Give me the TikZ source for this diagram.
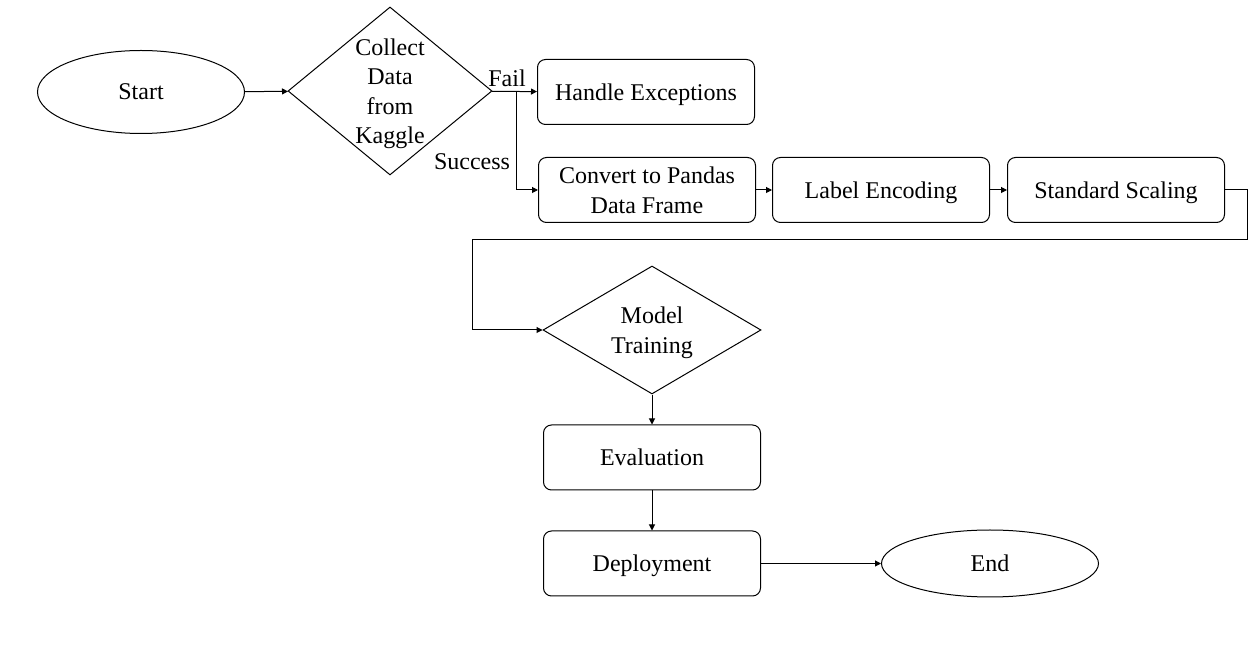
\documentclass[tikz,border=0pt]{standalone}
\usepackage{fontspec}
\setmainfont{Liberation Serif}
\usepackage{tikz}
\usetikzlibrary{arrows.meta, shapes.geometric, positioning}

\begin{document}
\begin{tikzpicture}[x=0.5pt, y=-0.5pt, line width=0.5pt, >={Triangle[length=3pt, width=3pt]},
    font=\fontsize{12}{14.75}\selectfont,
    terminal/.style={draw, ellipse, inner sep=0pt, text depth=0pt},
    stepbox/.style={draw, rectangle, rounded corners=4pt, align=center, text depth=0pt, minimum width=108.5pt, minimum height=32.5pt},
    decision/.style={draw, diamond, inner sep=0pt, align=center, text depth=0pt}]
    \useasboundingbox (0,0) rectangle (1255,657);
    \node[terminal, minimum width=103.5pt, minimum height=41.5pt] (start) at (141,92) {Start};
    \node[decision, shape aspect=1.21, minimum width=102pt, minimum height=84pt] (collect) at (390,91) {Collect\\Data\\from\\Kaggle};
    \node[stepbox] (handle) at (646,92) {Handle Exceptions};
    \node[stepbox] (convert) at (647,190) {Convert to Pandas\\Data Frame};
    \node[stepbox, right=8pt of convert] (encode) {Label Encoding};
    \node[stepbox, right=8.5pt of encode] (scaling) {Standard Scaling};
    \node[decision, shape aspect=1.7, minimum width=109pt, minimum height=64pt] (train) at (652,330) {Model\\Training};
    \node[stepbox, below=15pt of train] (eval) {Evaluation};
    \node[stepbox, below=20pt of eval] (deploy) {Deployment};
    \node[terminal, minimum width=108.5pt, minimum height=33.5pt, right=60pt of deploy] (end) {End};
    \node (fail) at (507,78) {Fail};
    \node (success) at (472,162) {Success};
    \coordinate (split) at (516,92);
    \coordinate (turn) at (1247,240);
    \coordinate (back) at (472,240);

    \draw[->] (start) -- (collect);
    \draw[->] (collect) -- (handle);
    \draw[->] (split) |- (convert);
    \draw[->] (convert) -- (encode);
    \draw[->] (encode) -- (scaling);
    \draw[->] (scaling.east) -| (turn) -- (back) |- (train.west);
    \draw[->] (train) -- (eval);
    \draw[->] (eval) -- (deploy);
    \draw[->] (deploy) -- (end);
\end{tikzpicture}
\end{document}
